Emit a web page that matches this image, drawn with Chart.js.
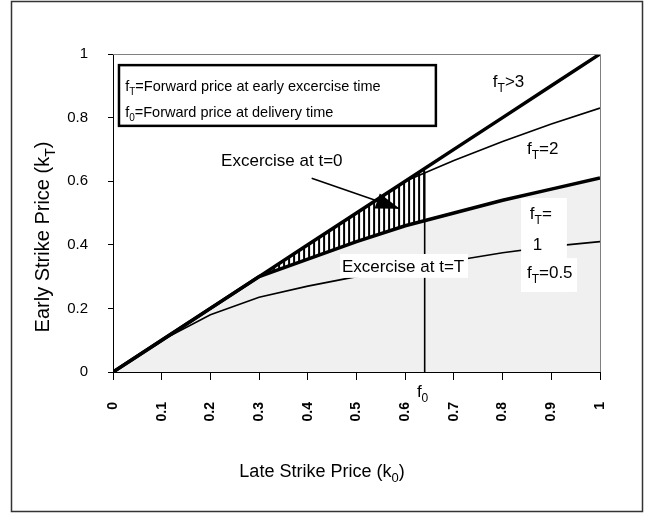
<!DOCTYPE html>
<html>
<head>
<meta charset="utf-8">
<script src="https://cdn.jsdelivr.net/npm/chart.js@4.4.1/dist/chart.umd.min.js"></script>
<style>
  html, body { margin: 0; padding: 0; background: #fff; }
  #chart { display: block; }
</style>
</head>
<body>
<canvas id="chart" width="650" height="514"></canvas>
<script>
// late strike price k0 (x) and early strike price kT (y) for each forward price f_T
const strikes = [0, 0.1, 0.2, 0.3, 0.4, 0.5, 0.6, 0.7, 0.8, 0.9, 1];
const fAbove3 = [0, 0.1, 0.2, 0.3, 0.4, 0.5, 0.6, 0.7, 0.8, 0.9, 1];
const fEq2 = [0, 0.1, 0.2, 0.3, 0.4, 0.5, 0.6, 0.665, 0.725, 0.78, 0.83];
const fEq1 = [0, 0.1, 0.2, 0.3, 0.355, 0.41, 0.46, 0.5, 0.54, 0.575, 0.61];
const fEqHalf = [0, 0.1, 0.18, 0.235, 0.27, 0.3, 0.325, 0.35, 0.375, 0.395, 0.41];

const xTickValues = [0, 0.1, 0.2, 0.3, 0.4, 0.5, 0.6, 0.7, 0.8, 0.9, 1];
const xTickLabels = ['0', '0.1', '0.2', '0.3', '0.4', '0.5', '0.6', '0.7', '0.8', '0.9', '1'];
const yTickValues = [0, 0.2, 0.4, 0.6, 0.8, 1];
const yTickLabels = ['0', '0.2', '0.4', '0.6', '0.8', '1'];

const f0 = 0.64;          // forward price at delivery time
const f0LineTop = 0.63;
const hatchFrom = 0.3;    // where f_T=1 leaves the diagonal
const arrowFrom = [0.408, 0.609];
const arrowTo = [0.589, 0.513];

const FONT = "'Liberation Sans', Arial, sans-serif";

function pts(ys) {
  return strikes.map((x, i) => ({ x: x, y: ys[i] }));
}

// draws text like f<sub>T</sub>=2, parts = [[text, isSub], ...]
function richText(ctx, parts, x, y, size, measureOnly) {
  let w = 0;
  parts.forEach(([t, sub]) => {
    ctx.font = (sub ? Math.round(size * 0.72) : size) + 'px ' + FONT;
    if (!measureOnly) ctx.fillText(t, x + w, y + (sub ? size * 0.28 : 0));
    w += ctx.measureText(t).width;
  });
  return w;
}

const annotations = {
  id: 'annotations',
  beforeDraw(chart) {
    const ctx = chart.ctx;
    ctx.save();
    ctx.fillStyle = '#fff';
    ctx.fillRect(0, 0, chart.width, chart.height);
    ctx.restore();
  },
  afterDatasetsDraw(chart) {
    const { ctx, chartArea: a, scales: { x, y } } = chart;
    const px = v => x.getPixelForValue(v);
    const py = v => y.getPixelForValue(v);

    // vertical hatch between f_T>3 and f_T=1, up to f0
    const top = chart.getDatasetMeta(3).data;
    const bottom = chart.getDatasetMeta(0).data;
    ctx.save();
    ctx.beginPath();
    top.forEach((p, i) => i ? ctx.lineTo(p.x, p.y) : ctx.moveTo(p.x, p.y));
    for (let i = bottom.length - 1; i >= 0; i--) ctx.lineTo(bottom[i].x, bottom[i].y);
    ctx.closePath();
    ctx.clip();
    ctx.beginPath();
    for (let h = px(hatchFrom); h <= px(f0); h += 5) {
      ctx.moveTo(h, a.top);
      ctx.lineTo(h, a.bottom);
    }
    ctx.lineWidth = 2;
    ctx.strokeStyle = '#000';
    ctx.stroke();
    ctx.restore();

    // plot frame top / right
    ctx.save();
    ctx.strokeStyle = '#808080';
    ctx.lineWidth = 1;
    ctx.beginPath();
    ctx.moveTo(a.left, a.top + 0.5);
    ctx.lineTo(a.right + 0.5, a.top + 0.5);
    ctx.lineTo(a.right + 0.5, a.bottom);
    ctx.stroke();
    ctx.restore();

    ctx.save();
    ctx.fillStyle = '#000';
    ctx.textBaseline = 'alphabetic';

    // legend box
    ctx.fillStyle = '#fff';
    ctx.fillRect(px(0.0123), py(0.965), px(0.663) - px(0.0123), py(0.774) - py(0.965));
    ctx.lineWidth = 2.5;
    ctx.strokeStyle = '#000';
    ctx.strokeRect(px(0.0123), py(0.965), px(0.663) - px(0.0123), py(0.774) - py(0.965));
    ctx.fillStyle = '#000';
    richText(ctx, [['f'], ['T', 1], ['=Forward price at early excercise time']], px(0.025), py(0.884), 14.5);
    richText(ctx, [['f'], ['0', 1], ['=Forward price at delivery time']], px(0.025), py(0.802), 14.5);

    // white label boxes over the shaded area
    ctx.fillStyle = '#fff';
    ctx.fillRect(px(0.838), py(0.547), px(0.932) - px(0.838), py(0.252) - py(0.547));
    ctx.fillRect(px(0.838), py(0.358), px(0.953) - px(0.838), py(0.252) - py(0.358));
    ctx.fillRect(px(0.466), py(0.371), px(0.729) - px(0.466), py(0.296) - py(0.371));

    ctx.fillStyle = '#000';
    richText(ctx, [['f'], ['T', 1], ['>3']], px(0.78), py(0.895), 17);
    richText(ctx, [['f'], ['T', 1], ['=2']], px(0.85), py(0.685), 17);
    richText(ctx, [['f'], ['T', 1], ['=']], px(0.856), py(0.481), 17);
    richText(ctx, [['1']], px(0.862), py(0.384), 17);
    richText(ctx, [['f'], ['T', 1], ['=0.5']], px(0.85), py(0.296), 17);
    richText(ctx, [['Excercise at t=0']], px(0.222), py(0.648), 17);
    richText(ctx, [['Excercise at t=T']], px(0.47), py(0.314), 17);
    richText(ctx, [['f'], ['0', 1]], px(0.624), py(-0.079), 17);

    // arrow head
    const x1 = px(arrowFrom[0]), y1 = py(arrowFrom[1]);
    const x2 = px(arrowTo[0]), y2 = py(arrowTo[1]);
    const ang = Math.atan2(y2 - y1, x2 - x1);
    const len = 24, half = 8;
    ctx.beginPath();
    ctx.moveTo(x2, y2);
    ctx.lineTo(x2 - len * Math.cos(ang) + half * Math.sin(ang), y2 - len * Math.sin(ang) - half * Math.cos(ang));
    ctx.lineTo(x2 - len * Math.cos(ang) - half * Math.sin(ang), y2 - len * Math.sin(ang) + half * Math.cos(ang));
    ctx.closePath();
    ctx.fill();
    ctx.restore();
  },
  afterDraw(chart) {
    const ctx = chart.ctx;
    ctx.save();
    ctx.fillStyle = '#000';
    // axis titles
    const xw = richText(ctx, [['Late Strike Price (k'], ['0', 1], [')']], 0, 0, 18, true);
    richText(ctx, [['Late Strike Price (k'], ['0', 1], [')']], 322 - xw / 2, 477, 18);
    ctx.translate(49, 237);
    ctx.rotate(-Math.PI / 2);
    const yw = richText(ctx, [['Early Strike Price (k'], ['T', 1], [')']], 0, 0, 20, true);
    richText(ctx, [['Early Strike Price (k'], ['T', 1], [')']], -yw / 2, 0, 20);
    ctx.restore();

    // outer frame
    ctx.save();
    ctx.strokeStyle = '#333';
    ctx.lineWidth = 1.5;
    ctx.strokeRect(11.5, 1.5, 631, 510);
    ctx.restore();
  }
};

Chart.defaults.font.family = FONT;
Chart.defaults.color = '#000';

new Chart(document.getElementById('chart'), {
  type: 'line',
  data: {
    datasets: [
      { label: 'fT=1', data: pts(fEq1), borderColor: '#000', borderWidth: 3.5, fill: 'origin', backgroundColor: '#f0f0f0' },
      { label: 'fT=0.5', data: pts(fEqHalf), borderColor: '#000', borderWidth: 1.6, fill: false },
      { label: 'fT=2', data: pts(fEq2), borderColor: '#000', borderWidth: 1.6, fill: false },
      { label: 'fT>3', data: pts(fAbove3), borderColor: '#000', borderWidth: 3.5, fill: false },
      { label: 'f0', data: [{ x: f0, y: 0 }, { x: f0, y: f0LineTop }], borderColor: '#000', borderWidth: 1.6, fill: false },
      { label: 'arrow', data: [{ x: arrowFrom[0], y: arrowFrom[1] }, { x: arrowTo[0], y: arrowTo[1] }], borderColor: '#000', borderWidth: 1.6, fill: false }
    ]
  },
  options: {
    responsive: false,
    animation: false,
    devicePixelRatio: 1,
    layout: { padding: { left: 0, top: 54, right: 50, bottom: 0 } },
    elements: { point: { radius: 0 }, line: { tension: 0 } },
    plugins: {
      legend: { display: false },
      tooltip: { enabled: false },
      filler: { drawTime: 'beforeDatasetsDraw' }
    },
    scales: {
      x: {
        type: 'linear',
        min: 0,
        max: 1,
        afterBuildTicks: s => { s.ticks = xTickValues.map(v => ({ value: v })); },
        afterFit: s => { s.height = 142; },
        ticks: {
          autoSkip: false,
          minRotation: 90,
          maxRotation: 90,
          padding: 22,
          font: { size: 14, weight: 'bold' },
          callback: (v, i) => xTickLabels[i]
        },
        grid: { drawOnChartArea: false, tickLength: 8, color: '#000' },
        border: { color: '#000', width: 1 }
      },
      y: {
        type: 'linear',
        min: 0,
        max: 1,
        afterBuildTicks: s => { s.ticks = yTickValues.map(v => ({ value: v })); },
        afterFit: s => { s.width = 113; },
        ticks: {
          autoSkip: false,
          padding: 20,
          font: { size: 15 },
          callback: (v, i) => yTickLabels[i]
        },
        grid: { drawOnChartArea: false, tickLength: 5, color: '#000' },
        border: { color: '#000', width: 1 }
      }
    }
  },
  plugins: [annotations]
});
</script>
</body>
</html>
